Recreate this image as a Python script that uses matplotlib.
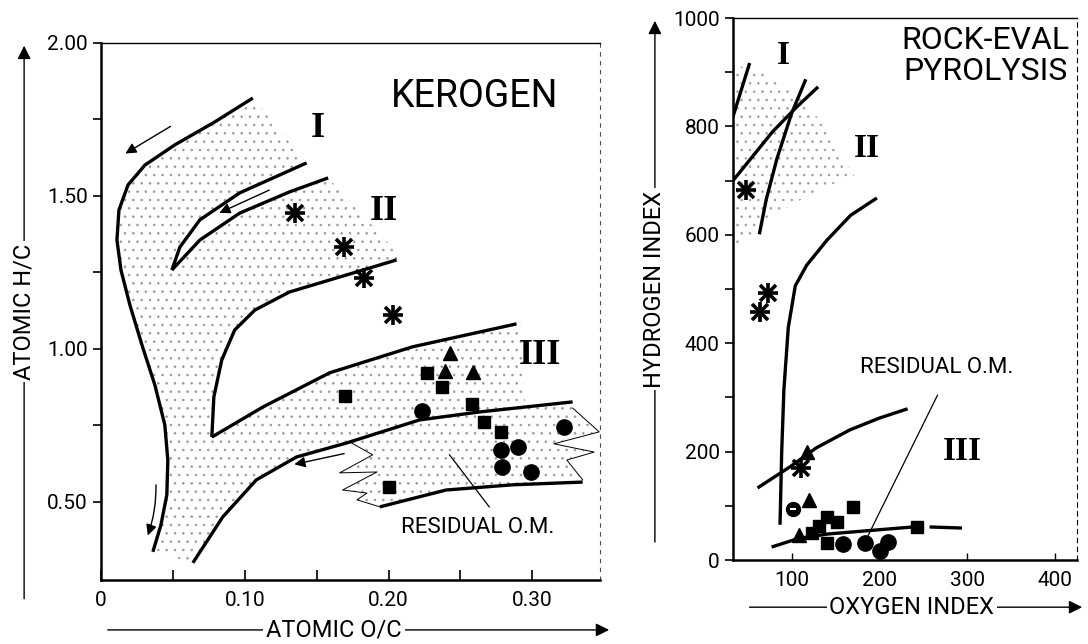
import matplotlib
matplotlib.use("Agg")
import matplotlib.pyplot as plt
from matplotlib.patches import Polygon

plt.rcParams['font.family'] = ['Roboto', 'DejaVu Sans']
plt.rcParams['hatch.linewidth'] = 0.6

# ---------------- left panel: van Krevelen (atomic O/C vs H/C) ----------------
# type I outer curve, top to bottom
outer_oc = [0.1056, 0.0792, 0.0514, 0.0306, 0.0188, 0.0125, 0.0111, 0.0139,
            0.0201, 0.0285, 0.0375, 0.0444, 0.0465, 0.0458, 0.0417, 0.0361]
outer_hc = [1.820, 1.742, 1.667, 1.601, 1.536, 1.454, 1.356, 1.258,
            1.144, 1.013, 0.882, 0.752, 0.637, 0.523, 0.425, 0.337]
# hook (type I inner), upper branch then lower branch from the tip
hook_up_oc = [0.143, 0.0965, 0.0688, 0.0549, 0.0493]
hook_up_hc = [1.608, 1.510, 1.422, 1.333, 1.258]
hook_lo_oc = [0.0493, 0.0688, 0.0965, 0.131, 0.158]
hook_lo_hc = [1.258, 1.356, 1.444, 1.513, 1.559]
# type II "V"
t2_up_oc = [0.2056, 0.178, 0.131, 0.107, 0.093, 0.084, 0.0785, 0.0771]
t2_up_hc = [1.291, 1.252, 1.186, 1.127, 1.062, 0.964, 0.843, 0.712]
t2_lo_oc = [0.0771, 0.1125, 0.159, 0.2167, 0.289]
t2_lo_hc = [0.712, 0.810, 0.922, 1.007, 1.082]
# type III curve
t3_oc = [0.0639, 0.0847, 0.108, 0.136, 0.171, 0.2215, 0.263, 0.328]
t3_hc = [0.301, 0.451, 0.572, 0.647, 0.693, 0.768, 0.794, 0.827]
# residual organic matter lower line and zigzag edges
res_lo_oc = [0.194, 0.240, 0.286, 0.335]
res_lo_hc = [0.484, 0.539, 0.556, 0.565]
zig_l_oc = [0.173, 0.189, 0.166, 0.192, 0.168, 0.185, 0.178, 0.194]
zig_l_hc = [0.696, 0.654, 0.595, 0.598, 0.539, 0.529, 0.507, 0.484]
zig_r_oc = [0.328, 0.3465, 0.315, 0.343, 0.324, 0.335]
zig_r_hc = [0.807, 0.729, 0.690, 0.663, 0.637, 0.572]

k_star_oc = [0.135, 0.169, 0.183, 0.203]
k_star_hc = [1.444, 1.333, 1.232, 1.111]
k_sq_oc = [0.170, 0.227, 0.237, 0.258, 0.2667, 0.278, 0.200]
k_sq_hc = [0.846, 0.922, 0.876, 0.820, 0.761, 0.729, 0.549]
k_tri_oc = [0.243, 0.239, 0.259]
k_tri_hc = [0.987, 0.928, 0.925]
k_circ_oc = [0.2236, 0.322, 0.278, 0.290, 0.279, 0.299]
k_circ_hc = [0.797, 0.745, 0.670, 0.680, 0.614, 0.598]

# ---------------- right panel: Rock-Eval (OI vs HI) ----------------
r1_oi = [33, 52]
r1_hi = [818, 917]
rx_oi = [33, 78, 105, 130]
rx_hi = [700, 790, 835, 873]
r2_oi = [63, 71, 83, 100, 116]
r2_hi = [601, 666, 740, 825, 887]
r23_oi = [86.6, 88.5, 91, 96, 104, 117, 140, 167, 197]
r23_hi = [65, 199, 314, 429, 506, 544, 590, 636, 668]
r3_oi = [61, 98, 128, 166, 200, 232]
r3_hi = [133, 172, 207, 240, 262, 279]
rres_a_oi = [77, 108, 141, 238]
rres_a_hi = [24, 40, 48, 61]
rres_b_oi = [257, 294]
rres_b_hi = [61, 59]
rshade_oi = [33, 56, 102, 140, 171, 129, 79, 41, 33]
rshade_hi = [912, 908, 866, 797, 709, 682, 636, 582, 582]

r_star_oi = [48, 73, 64, 111]
r_star_hi = [683, 493, 458, 170]
r_tri_oi = [117, 120, 108]
r_tri_hi = [199, 111, 46]
r_sq_oi = [140, 151, 140, 131, 123, 170, 243]
r_sq_hi = [31, 70, 79, 63, 50, 98, 61]
r_circ_oi = [158, 183, 200, 210]
r_circ_hi = [30, 31, 17, 33]
r_half_oi = [101]
r_half_hi = [94]

fig = plt.figure(figsize=(10.88, 6.44), dpi=100)
ax1 = fig.add_axes([0.0928, 0.0994, 0.4586, 0.8339])
ax2 = fig.add_axes([0.6737, 0.1304, 0.3162, 0.8416])

LW = 2.4
serif = dict(family='Liberation Serif', fontweight='bold', color='black')
DOT = '0.6'


def asterisk(ax, xs, ys):
    ax.plot(xs, ys, linestyle='none', marker='+', ms=14, mew=2.6, color='black', zorder=5)
    ax.plot(xs, ys, linestyle='none', marker='x', ms=11, mew=2.6, color='black', zorder=5)


# ---- left panel ----
ax1.set_xlim(0, 0.347)
ax1.set_ylim(0.245, 2.0)

# dotted band
shade_x = (outer_oc + t3_oc[:7] + [0.295, 0.292] + t2_lo_oc[::-1]
           + t2_up_oc[::-1][1:] + [0.2076] + hook_lo_oc[::-1] + hook_up_oc[::-1][1:])
shade_y = (outer_hc + t3_hc[:7] + [0.810, 1.075] + t2_lo_hc[::-1]
           + t2_up_hc[::-1][1:] + [1.307] + hook_lo_hc[::-1] + hook_up_hc[::-1][1:])
ax1.add_patch(Polygon(list(zip(shade_x, shade_y)), closed=True, facecolor='none',
                      edgecolor=DOT, hatch='..', linewidth=0, zorder=1))
res_x = t3_oc[4:] + zig_r_oc + res_lo_oc[::-1] + zig_l_oc[::-1]
res_y = t3_hc[4:] + zig_r_hc + res_lo_hc[::-1] + zig_l_hc[::-1]
ax1.add_patch(Polygon(list(zip(res_x, res_y)), closed=True, facecolor='none',
                      edgecolor=DOT, hatch='..', linewidth=0, zorder=1,
                      clip_on=False))

for xs, ys in [(outer_oc, outer_hc), (hook_up_oc, hook_up_hc), (hook_lo_oc, hook_lo_hc),
               (t2_up_oc, t2_up_hc), (t2_lo_oc, t2_lo_hc), (t3_oc, t3_hc),
               (res_lo_oc, res_lo_hc)]:
    ax1.plot(xs, ys, color='black', lw=LW, solid_capstyle='butt', zorder=3)
ax1.plot(zig_l_oc, zig_l_hc, color='black', lw=0.7, zorder=3)
ax1.plot(zig_r_oc, zig_r_hc, color='black', lw=0.7, zorder=3, clip_on=False)

arr = dict(arrowstyle='-|>', color='black', lw=1.0, mutation_scale=16)
ax1.annotate('', xy=(0.0153, 1.634), xytext=(0.050, 1.732), arrowprops=arr)
ax1.annotate('', xy=(0.0806, 1.441), xytext=(0.1188, 1.523), arrowprops=arr)
ax1.annotate('', xy=(0.0319, 0.382), xytext=(0.0382, 0.565),
             arrowprops=dict(arr, connectionstyle='arc3,rad=-0.1'))
ax1.annotate('', xy=(0.1326, 0.621), xytext=(0.171, 0.660), arrowprops=arr)

asterisk(ax1, k_star_oc, k_star_hc)
ax1.plot(k_sq_oc, k_sq_hc, linestyle='none', marker='s', ms=9, color='black', zorder=5)
ax1.plot(k_tri_oc, k_tri_hc, linestyle='none', marker='^', ms=10, color='black', zorder=5)
ax1.plot(k_circ_oc, k_circ_hc, linestyle='none', marker='o', ms=11, color='black', zorder=5)

ax1.text(0.2597, 1.824, 'KEROGEN', fontsize=27, ha='center', va='center')
ax1.text(0.151, 1.722, 'I', fontsize=26, ha='center', va='center', **serif)
ax1.text(0.197, 1.448, 'II', fontsize=26, ha='center', va='center', **serif)
ax1.text(0.305, 0.977, 'III', fontsize=26, ha='center', va='center', **serif)
ax1.text(0.262, 0.415, 'RESIDUAL O.M.', fontsize=16, ha='center', va='center')
ax1.plot([0.2424, 0.270], [0.654, 0.484], color='black', lw=0.9, zorder=3)

ax1.set_xticks([0, 0.1, 0.2, 0.3], ['0', '0.10', '0.20', '0.30'])
ax1.set_xticks([0.05, 0.15, 0.25], minor=True)
ax1.set_yticks([0.5, 1.0, 1.5, 2.0], ['0.50', '1.00', '1.50', '2.00'])
ax1.set_yticks([0.75, 1.25, 1.75], minor=True)
ax1.tick_params(axis='x', which='both', direction='in', length=7, width=1.2,
                labelsize=15, pad=8)
ax1.tick_params(axis='y', which='both', direction='out', length=6, width=1.2,
                labelsize=15)
for s in ['left', 'bottom']:
    ax1.spines[s].set_linewidth(1.8)
ax1.spines['top'].set_linewidth(1.0)
ax1.spines['right'].set_linewidth(0.8)
ax1.spines['right'].set_linestyle((0, (3, 5)))
ax1.spines['right'].set_color('0.3')

# axis labels with arrow lines
ax1.annotate('', xy=(-0.154, 1.0), xytext=(-0.154, -0.04), xycoords='axes fraction',
             arrowprops=dict(arrowstyle='-|>', color='black', lw=1.0, mutation_scale=20),
             annotation_clip=False)
ax1.text(-0.154, 0.5, 'ATOMIC H/C', transform=ax1.transAxes, rotation=90,
         fontsize=17, ha='center', va='center',
         bbox=dict(facecolor='white', edgecolor='none', pad=2))
ax1.annotate('', xy=(1.024, -0.093), xytext=(0.008, -0.093), xycoords='axes fraction',
             arrowprops=dict(arrowstyle='-|>', color='black', lw=1.0, mutation_scale=20),
             annotation_clip=False)
ax1.text(0.467, -0.093, 'ATOMIC O/C', transform=ax1.transAxes, fontsize=17,
         ha='center', va='center', bbox=dict(facecolor='white', edgecolor='none', pad=2))

# ---- right panel ----
ax2.set_xlim(33, 425)
ax2.set_ylim(0, 1000)

ax2.add_patch(Polygon(list(zip(rshade_oi, rshade_hi)), closed=True, facecolor='none',
                      edgecolor='0.62', hatch='..', linewidth=0, zorder=1))
for xs, ys in [(r1_oi, r1_hi), (rx_oi, rx_hi), (r2_oi, r2_hi), (r23_oi, r23_hi),
               (r3_oi, r3_hi), (rres_a_oi, rres_a_hi), (rres_b_oi, rres_b_hi)]:
    ax2.plot(xs, ys, color='black', lw=LW, solid_capstyle='butt', zorder=3)

asterisk(ax2, r_star_oi, r_star_hi)
ax2.plot(r_tri_oi, r_tri_hi, linestyle='none', marker='^', ms=10, color='black', zorder=5)
ax2.plot(r_sq_oi, r_sq_hi, linestyle='none', marker='s', ms=9, color='black', zorder=5)
ax2.plot(r_circ_oi, r_circ_hi, linestyle='none', marker='o', ms=11, color='black', zorder=5)
ax2.plot(r_half_oi, r_half_hi, linestyle='none', marker='o', ms=10, color='black', zorder=5)
ax2.plot(r_half_oi, r_half_hi, linestyle='none', marker='_', ms=5, mew=1.5,
         color='white', zorder=6)

ax2.text(90, 931, 'I', fontsize=24, ha='center', va='center', **serif)
ax2.text(186, 759, 'II', fontsize=24, ha='center', va='center', **serif)
ax2.text(294, 200, 'III', fontsize=24, ha='center', va='center', **serif)
ax2.text(321, 930, 'ROCK-EVAL\nPYROLYSIS', fontsize=23, ha='center', va='center',
         linespacing=1.05)
ax2.text(265, 355, 'RESIDUAL O.M.', fontsize=16, ha='center', va='center')
ax2.plot([266, 186], [304, 42], color='black', lw=0.9, zorder=3)

ax2.set_xticks([100, 200, 300, 400])
ax2.set_yticks([0, 200, 400, 600, 800, 1000])
ax2.set_yticks([100, 300, 500, 700, 900], minor=True)
ax2.tick_params(axis='x', which='both', direction='in', length=5, width=1.0,
                labelsize=15, pad=8)
ax2.tick_params(axis='y', which='both', direction='out', length=6, width=1.2,
                labelsize=15)
for s in ['left', 'bottom']:
    ax2.spines[s].set_linewidth(1.8)
ax2.spines['top'].set_linewidth(1.0)
ax2.spines['right'].set_linewidth(0.8)
ax2.spines['right'].set_linestyle((0, (4, 4)))

ax2.annotate('', xy=(-0.227, 1.0), xytext=(-0.227, 0.028), xycoords='axes fraction',
             arrowprops=dict(arrowstyle='-|>', color='black', lw=1.0, mutation_scale=20),
             annotation_clip=False)
ax2.text(-0.227, 0.5, 'HYDROGEN INDEX', transform=ax2.transAxes, rotation=90,
         fontsize=17, ha='center', va='center',
         bbox=dict(facecolor='white', edgecolor='none', pad=2))
ax2.annotate('', xy=(1.023, -0.087), xytext=(0.04, -0.087), xycoords='axes fraction',
             arrowprops=dict(arrowstyle='-|>', color='black', lw=1.0, mutation_scale=20),
             annotation_clip=False)
ax2.text(0.52, -0.087, 'OXYGEN INDEX', transform=ax2.transAxes, fontsize=17,
         ha='center', va='center', bbox=dict(facecolor='white', edgecolor='none', pad=2))

fig.savefig('out.png', dpi=100)
